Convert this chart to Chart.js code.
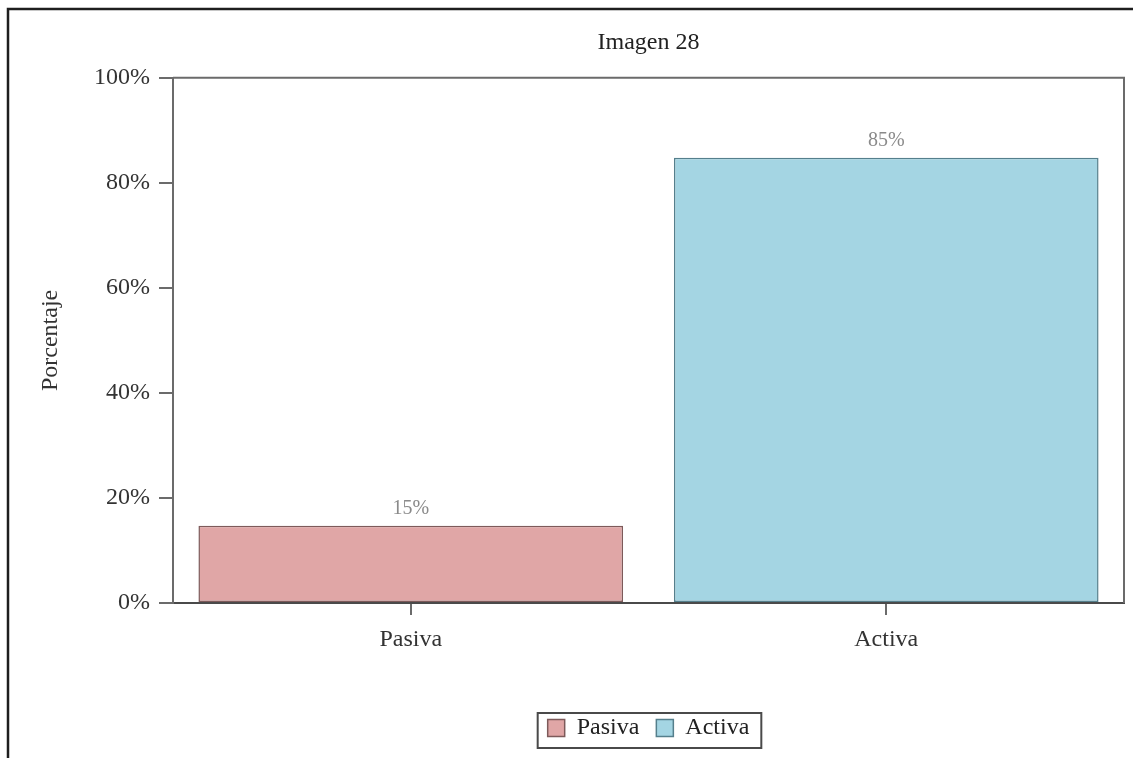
<!DOCTYPE html>
<html>
<head>
<meta charset="utf-8">
<script src="https://cdn.jsdelivr.net/npm/chart.js@4.4.1/dist/chart.umd.min.js"></script>
<style>
  html, body { margin: 0; padding: 0; background: #ffffff; }
  #wrap { position: relative; width: 1133px; height: 758px; }
  canvas { display: block; }
</style>
</head>
<body>
<div id="wrap"><canvas id="c" width="1133" height="758"></canvas></div>
<script>
// ---- data ----
const chartTitle = 'Imagen 28';
const yAxisTitle = 'Porcentaje';
const categories = ['Pasiva', 'Activa'];
const percentages = [14.7, 84.8];
const valueLabels = ['15%', '85%'];
const yTickValues = [0, 20, 40, 60, 80, 100];

// ---- styles ----
const fillColors = ['#E0A6A6', '#A4D5E3'];
const edgeColors = ['#7d5a5a', '#557f8c'];
const FONT = "'Liberation Serif', 'Times New Roman', serif";

Chart.defaults.font.family = FONT;
Chart.defaults.color = '#333333';

const datasets = categories.map((cat, i) => ({
  label: cat,
  data: percentages.map((v, j) => (j === i ? v : null)),
  backgroundColor: fillColors[i],
  borderColor: edgeColors[i],
  borderWidth: 1.5,
  borderSkipped: false,
  grouped: false,
  categoryPercentage: 1.0,
  barPercentage: 0.893
}));

const decorations = {
  id: 'decorations',
  beforeDraw(chart) {
    const ctx = chart.ctx;
    ctx.save();
    ctx.strokeStyle = '#1e1e1e';
    ctx.lineWidth = 2.5;
    ctx.beginPath();
    ctx.moveTo(1133, 9);
    ctx.lineTo(8, 9);
    ctx.lineTo(8, 758);
    ctx.stroke();
    ctx.restore();
  },
  afterDraw(chart) {
    const ctx = chart.ctx;
    const a = chart.chartArea;
    ctx.save();
    // plot box top and right
    ctx.strokeStyle = '#6b6b6b';
    ctx.lineWidth = 2;
    ctx.beginPath();
    ctx.moveTo(a.left, a.top);
    ctx.lineTo(a.right, a.top);
    ctx.lineTo(a.right, a.bottom);
    ctx.stroke();

    // value labels
    ctx.fillStyle = '#8a8a8a';
    ctx.font = '20px ' + FONT;
    ctx.textAlign = 'center';
    ctx.textBaseline = 'alphabetic';
    chart.data.datasets.forEach((ds, di) => {
      const meta = chart.getDatasetMeta(di);
      meta.data.forEach((el, idx) => {
        if (ds.data[idx] === null || ds.data[idx] === undefined) return;
        ctx.fillText(valueLabels[idx], el.x, el.y - 12);
      });
    });

    // legend frame
    const lg = chart.legend;
    if (lg && lg.legendHitBoxes && lg.legendHitBoxes.length) {
      const hb = lg.legendHitBoxes;
      const first = hb[0], last = hb[hb.length - 1];
      const left = first.left - 10;
      const right = last.left + last.width + 12;
      const top = first.top - 3;
      const bottom = first.top + 32;
      ctx.strokeStyle = '#4a4a4a';
      ctx.lineWidth = 2;
      ctx.strokeRect(left, top, right - left, bottom - top);
    }
    ctx.restore();
  }
};

new Chart(document.getElementById('c'), {
  type: 'bar',
  data: { labels: categories, datasets: datasets },
  options: {
    responsive: false,
    animation: false,
    devicePixelRatio: 1,
    layout: { padding: { left: 0, right: 9, top: 0, bottom: 8 } },
    plugins: {
      title: {
        display: true,
        text: chartTitle,
        fullSize: false,
        color: '#222222',
        font: { size: 24, weight: 'normal', family: FONT },
        padding: { top: 28, bottom: 21 }
      },
      legend: {
        display: true,
        position: 'bottom',
        fullSize: false,
        labels: {
          boxWidth: 17,
          boxHeight: 17,
          padding: 17,
          color: '#222222',
          font: { size: 24, family: FONT }
        }
      },
      tooltip: { enabled: false }
    },
    scales: {
      x: {
        grid: {
          display: true,
          drawOnChartArea: false,
          drawTicks: true,
          offset: false,
          tickLength: 12,
          color: '#6b6b6b',
          lineWidth: 2
        },
        border: { display: true, color: '#4a4a4a', width: 2 },
        ticks: { color: '#333333', padding: 10, font: { size: 24, family: FONT } },
        afterFit(scale) { scale.height = 96; }
      },
      y: {
        min: 0,
        max: 100,
        afterBuildTicks(scale) { scale.ticks = yTickValues.map(v => ({ value: v })); },
        grid: {
          display: true,
          drawOnChartArea: false,
          drawTicks: true,
          tickLength: 14,
          color: '#6b6b6b',
          lineWidth: 2
        },
        border: { display: true, color: '#6b6b6b', width: 2 },
        ticks: {
          color: '#333333',
          padding: 9,
          font: { size: 24, family: FONT },
          callback: (v) => v + '%'
        },
        title: {
          display: true,
          text: yAxisTitle,
          color: '#333333',
          font: { size: 24, family: FONT },
          padding: { top: 36, bottom: 0 }
        },
        afterFit(scale) { scale.width = 173; }
      }
    }
  },
  plugins: [decorations]
});
</script>
</body>
</html>
